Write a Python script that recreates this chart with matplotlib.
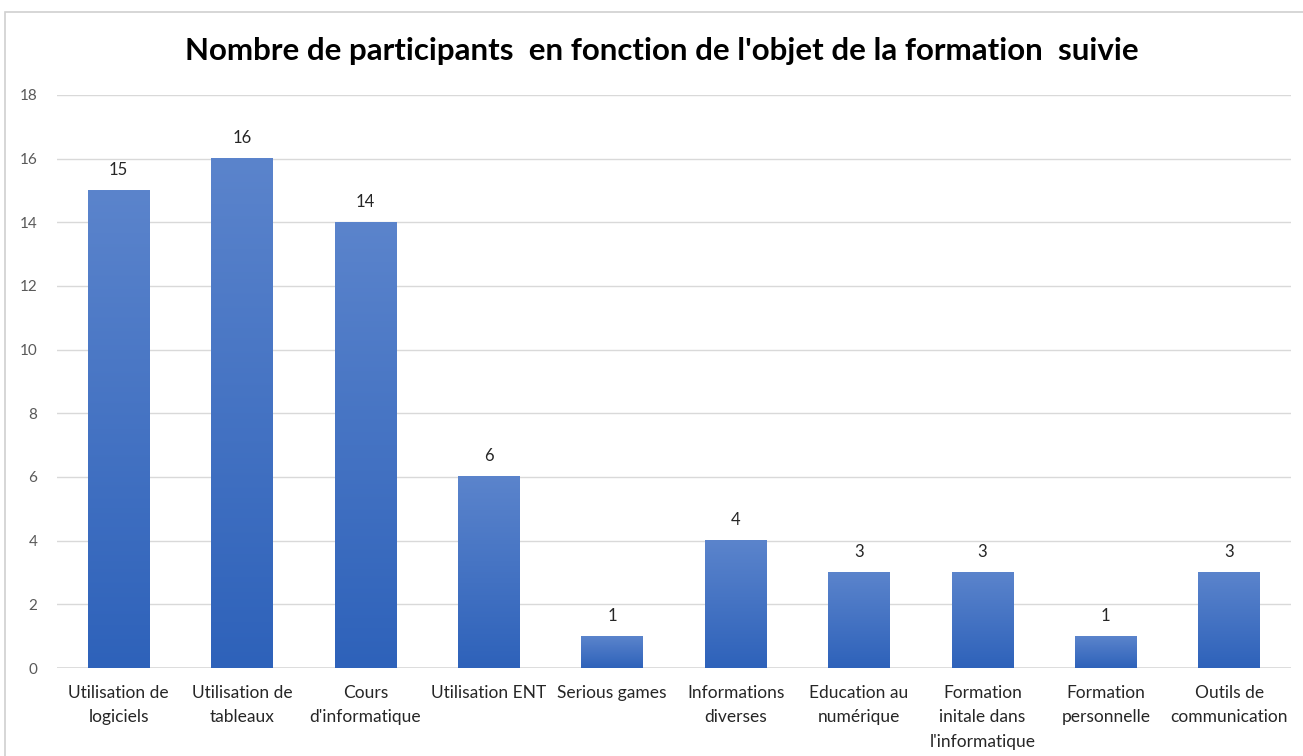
import numpy as np
import matplotlib
matplotlib.use('Agg')
import matplotlib.pyplot as plt
from matplotlib.patches import Rectangle
from matplotlib.colors import LinearSegmentedColormap

plt.rcParams['font.family'] = ['Lato', 'DejaVu Sans']

categories = ["Utilisation de\nlogiciels", "Utilisation de\ntableaux", "Cours\nd'informatique",
              "Utilisation ENT", "Serious games", "Informations\ndiverses",
              "Education au\nnumérique", "Formation\ninitale dans\nl'informatique",
              "Formation\npersonnelle", "Outils de\ncommunication"]
values = [15, 16, 14, 6, 1, 4, 3, 3, 1, 3]
yticks = [0, 2, 4, 6, 8, 10, 12, 14, 16, 18]

fig = plt.figure(figsize=(13.03, 7.56), dpi=100)
ax = fig.add_axes([0.0437, 0.1164, 0.947, 0.758])

x = np.arange(len(categories))
bars = ax.bar(x, values, width=0.5, color='none', edgecolor='none', zorder=3)

# gradient fill like the Excel style: lighter at top, darker at bottom
cmap = LinearSegmentedColormap.from_list('blu', ['#2E62BA', '#5B84CC'])
grad = np.linspace(0, 1, 256).reshape(-1, 1)
for b in bars:
    x0, w, h = b.get_x(), b.get_width(), b.get_height()
    ax.imshow(grad, extent=[x0, x0 + w, 0, h], origin='lower', cmap=cmap,
              aspect='auto', zorder=3)
    ax.annotate(str(int(h)), (x0 + w / 2, h), xytext=(0, 9), textcoords='offset points',
                ha='center', va='bottom', fontsize=12, color='#262626')

ax.set_xlim(-0.5, len(categories) - 0.5)
ax.set_ylim(0, 18)
ax.set_yticks(yticks)
ax.set_xticks(x)
ax.set_xticklabels(categories, fontsize=12.5, color='#262626', linespacing=1.65)
ax.tick_params(axis='y', labelsize=11, labelcolor='#595959', length=0, pad=14)
ax.tick_params(axis='x', length=0, pad=12)
ax.grid(axis='y', color='#D9D9D9', linewidth=1, zorder=0)
for s in ax.spines.values():
    s.set_visible(False)
ax.axhline(0, color='#D9D9D9', linewidth=1.2, zorder=1)

fig.text(0.508, 0.932, "Nombre de participants  en fonction de l'objet de la formation  suivie",
         ha='center', va='center', fontsize=22.5, fontweight='bold', color='#000000')

fig.patches.append(Rectangle((0.004, -0.01), 1.0, 0.994, transform=fig.transFigure,
                             fill=False, edgecolor='#D0D0D0', linewidth=1.2))

fig.savefig('out.png', dpi=100)
